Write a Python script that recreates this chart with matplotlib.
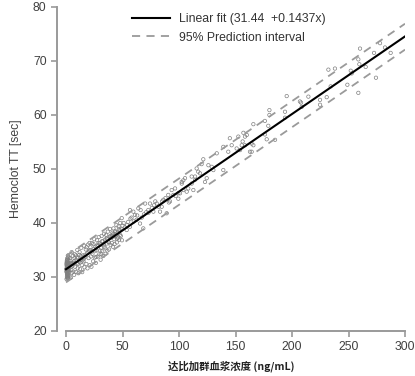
import matplotlib
matplotlib.use("Agg")
import matplotlib.pyplot as plt
import numpy as np
from matplotlib.lines import Line2D

plt.rcParams['font.family'] = ['Liberation Sans', 'Noto Sans CJK SC', 'DejaVu Sans']

# ---- data ----
x_cluster = [0.5,0.8,1.0,1.2,1.5,0.6,0.9,1.1,1.3,2.0,0.7,1.4,1.6,1.8,2.2,0.4,1.0,1.2,0.8,1.5,
             2.5,1.7,0.9,1.3,2.1,0.6,1.9,1.1,2.4,0.5,1.6,2.8,1.0,1.4,0.7,2.0,1.2,0.9,1.8,2.3,
             0.3,0.6,1.1,1.7,2.6,0.8,1.3,2.0,0.5,1.5]
y_cluster = [29.6,30.0,30.4,30.9,31.2,31.5,31.8,32.0,32.3,32.6,32.9,33.2,33.6,34.0,31.0,31.4,31.7,32.1,30.6,29.9,
             31.9,32.4,31.1,30.2,33.0,31.6,30.8,32.7,31.3,32.2,29.8,32.5,33.4,30.5,31.9,31.2,32.8,31.5,30.3,33.7,
             31.0,32.4,30.7,31.3,32.1,33.1,29.7,31.7,32.6,30.1]

x_low = [3,3.5,4,4.2,4.5,5,5.3,5.8,6,6.5,7,7.2,7.8,8,8.5,9,9.4,10,10.3,10.8,11,11.5,12,12.4,13,13.5,14,14.3,15,15.5,
         16,16.3,17,17.5,18,18.6,19,19.5,20,20.5,21,21.6,22,22.5,23,23.4,24,24.6,25,25.5,26,26.4,27,27.5,28,28.6,29,29.5,
         30,30.6,31,31.5,32,32.5,33,33.6,34,34.5,35,35.5,36,36.6,37,37.5,38,38.6,39,39.5,40,40.5,41,41.5,42,42.6,43,43.5,
         44,44.6,45,45.5,46,46.5,47,47.6,48,48.5,49,49.5,50]
y_low = [30.2,33.5,31.8,29.9,32.6,34.6,30.8,32.1,33.9,31.0,32.9,30.4,34.2,31.9,33.1,30.9,32.5,35.0,31.6,33.6,30.7,32.9,
         34.6,31.5,33.2,35.4,32.2,30.9,34.0,32.9,35.8,31.8,33.7,35.1,32.4,34.4,31.6,36.0,33.5,34.8,32.2,35.5,33.8,31.9,
         36.3,34.3,32.9,35.2,37.0,33.6,35.6,32.6,34.9,36.8,33.8,35.9,37.4,34.2,36.2,33.2,35.4,37.6,34.8,36.6,33.9,38.0,
         35.6,36.9,34.3,37.8,36.2,34.9,38.4,36.5,35.1,37.4,38.9,35.9,37.3,36.3,38.2,35.6,39.0,37.0,36.1,38.5,37.6,39.6,
         36.4,38.2,37.3,39.4,36.9,38.7,40.0,37.6,38.9,36.8,39.5]

x_low2 = [3.2,4.8,6.2,7.5,8.8,10.5,11.8,13.2,14.6,16.8,18.2,19.8,21.2,22.8,24.2,25.8,27.2,28.8,30.3,31.8,
          33.2,34.8,36.3,37.8,39.2,40.8,42.3,43.8,45.3,46.8,3.8,5.6,9.7,12.7,15.8,20.8,26.7,31.2,35.8,41.8]
y_low2 = [32.1,31.3,32.6,33.5,34.0,32.4,34.1,33.9,33.1,34.1,35.5,34.6,35.0,34.7,36.1,34.9,35.8,36.3,34.9,36.6,
          36.0,35.3,37.1,36.4,37.6,37.7,37.5,38.3,37.1,38.8,33.0,32.4,33.6,32.7,33.4,36.3,33.7,34.2,37.1,38.0]

x_mid = [47.8,49.3,53.7,56.6,56.6,59.6,62.5,64.0,65.5,68.4,70.0,72.8,74.3,77.3,80.3,83.2,84.7,86.1,89.1,90.5,
         93.5,96.5,99.4,99.4,102.4,103.8,106.8,111.2,114.2,118.6,52,55,58,61,67,71,76,79,82,88,92,95,97,
         51,54,57,60,63,66,69,73,78,85,91]
y_mid = [37.8,40.9,38.7,42.4,39.3,42.1,40.6,42.7,39.9,39.0,43.6,42.4,43.6,42.1,43.6,42.1,43.0,44.3,41.8,45.2,
         46.1,46.4,45.5,44.5,47.3,47.9,45.8,47.3,48.6,49.2,39.2,40.2,41.0,41.5,41.0,42.0,42.8,44.0,43.0,44.6,44.0,45.2,45.0,
         40.0,39.6,40.8,40.3,41.4,42.4,41.6,41.9,43.3,44.0,43.8]

x_high = [100.9,102.4,103.8,105.3,108.2,111.2,112.7,114.2,115.6,117,120,121.5,123,124.5,126,129,130.4,133.4,139.2,
          139.2,143.6,145,146.6,151,152.5,154,155.5,156.3,157,158.4,158.4,160,162.8,164.3,164.3,165.8,165.8,176,176,
          177.6,179,180,180,185,193.8,193.8,195.3,207,208,208.6,214.5,224.8,224.8,230.7,232.2,234.2,238,249,252,
          252.8,258.7,258.7,259.6,260.2,265.2,272.6,274.3,277.9,282.3,287.3]
y_high = [45.5,47.6,46.1,48.3,46.4,48.6,46.1,48.0,50.1,49.5,50.9,51.8,47.6,48.3,50.7,50.4,49.8,52.9,54.1,49.8,
          53.2,55.7,54.4,53.8,56.0,53.5,54.4,55.1,56.7,56.0,54.4,56.3,53.2,54.7,53.2,58.3,54.4,58.9,56.4,
          55.5,58.0,60.9,60.0,55.4,60.6,59.5,63.5,62.5,62.3,61.5,63.4,62.8,61.9,63.3,68.4,65.3,68.6,65.6,68.2,
          67.7,70.3,64.1,69.4,72.3,68.9,71.5,66.9,73.3,72.5,71.5]

fit_intercept = 31.44
fit_slope = 0.1437
pi_x = [0, 300]
pi_upper = [33.9, 76.9]
pi_lower = [29.0, 72.1]

x_ticks = [0, 50, 100, 150, 200, 250, 300]
y_ticks = [20, 30, 40, 50, 60, 70, 80]

# ---- plot ----
fig = plt.figure(figsize=(4.15, 3.76), dpi=100)
ax = fig.add_axes([0.1373, 0.1197, 0.8386, 0.8617])

xs = np.array(x_cluster + x_low + x_low2 + x_mid + x_high)
ys = np.array(y_cluster + y_low + y_low2 + y_mid + y_high)
ax.scatter(xs, ys, s=6, facecolors='none', edgecolors='#808080', linewidths=0.5, zorder=2)

fx = np.array([0, 300])
ax.plot(fx, fit_intercept + fit_slope * fx, color='black', lw=1.5, zorder=3)
ax.plot(pi_x, pi_upper, color='#9a9a9a', lw=1.3, ls=(0, (4.5, 3.5)), zorder=3)
ax.plot(pi_x, pi_lower, color='#9a9a9a', lw=1.3, ls=(0, (4.5, 3.5)), zorder=3)

ax.set_xlim(-8, 300)
ax.set_ylim(20, 80)
ax.set_xticks(x_ticks)
ax.set_yticks(y_ticks)
for s in ['top', 'right']:
    ax.spines[s].set_visible(False)
for s in ['left', 'bottom']:
    ax.spines[s].set_color('#9a9a9a')
    ax.spines[s].set_linewidth(1.4)
ax.spines['bottom'].set_bounds(0, 300)
ax.tick_params(axis='both', colors='#9a9a9a', labelcolor='#404040', labelsize=8.8, length=4, width=1.2)

ax.set_ylabel('Hemoclot TT [sec]', fontsize=8.8, color='#404040', labelpad=8)
ax.set_xlabel('达比加群血浆浓度 (ng/mL)', fontsize=7.5, fontweight='bold', color='#222222',
              family=['Noto Sans CJK SC', 'DejaVu Sans'], labelpad=5)

handles = [Line2D([], [], color='black', lw=1.5),
           Line2D([], [], color='#9a9a9a', lw=1.3, ls=(0, (4.5, 3.5)))]
ax.legend(handles, ['Linear fit (31.44  +0.1437x)', '95% Prediction interval'],
          loc='upper left', bbox_to_anchor=(0.215, 0.982), frameon=False, fontsize=8.8,
          handlelength=3.1, handletextpad=0.8, borderpad=0, borderaxespad=0, labelspacing=0.55,
          labelcolor='#333333')

fig.savefig('out.png', dpi=100)
